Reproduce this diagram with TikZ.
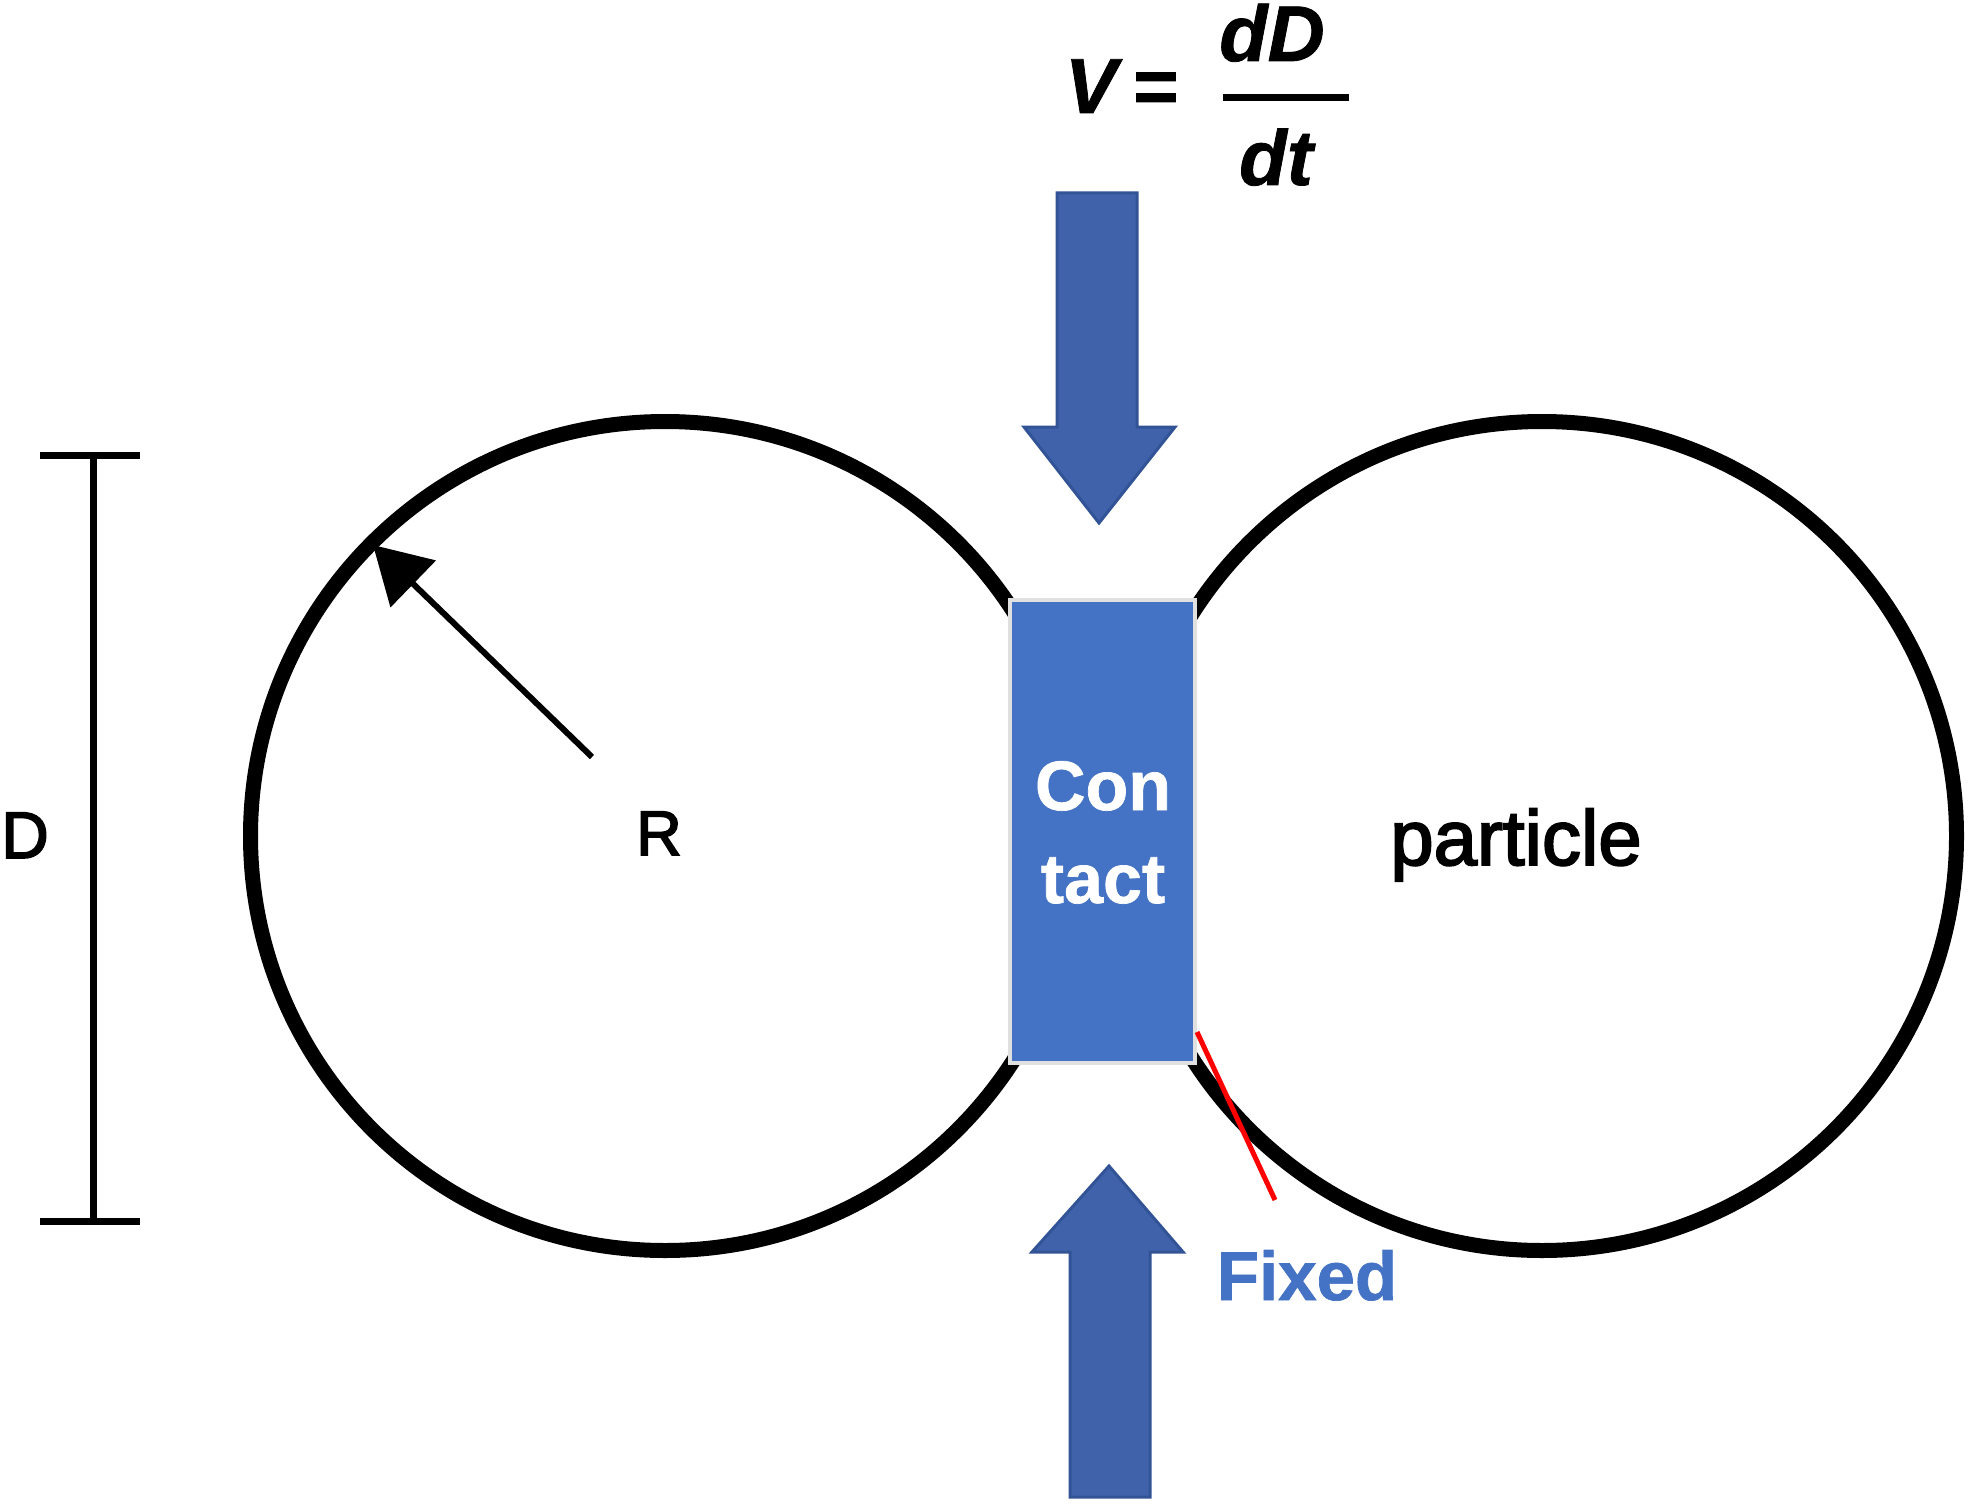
\documentclass[tikz,border=0pt]{standalone}
\usepackage{fontspec}
\setmainfont{Liberation Sans}
\newfontface\regheavy{Liberation Sans}[FakeBold=2.5]
\newfontface\boldheavy{Liberation Sans Bold}[FakeBold=1]
\newfontface\bolditheavy{Liberation Sans Bold Italic}[FakeBold=1]
\usetikzlibrary{arrows.meta}
\definecolor{contactblue}{RGB}{68,114,196}
\definecolor{arrowblue}{RGB}{64,98,170}
\definecolor{arrowedge}{RGB}{50,84,150}
\tikzset{
  lbl/.style={inner sep=0pt, anchor=base},
  particlecircle/.style={circle, draw=black, line width=15pt, minimum size=829pt, inner sep=0pt},
  bigarrow/.style={fill=arrowblue, draw=arrowedge, line width=3pt, line join=miter},
  dimline/.style={draw=black, line width=7pt},
}
\begin{document}
\begin{tikzpicture}[x=1pt,y=-1pt]
\fill[white] (0,0) rectangle (1969,1506);
\useasboundingbox (0,0) rectangle (1969,1506);

% particles
\node[particlecircle] (lp) at (665,836) {};
\node[particlecircle] (rp) at (1542,836) {};

% contact region
\node[fill=contactblue, draw=black!12, line width=4pt, minimum width=185pt, minimum height=463pt, inner sep=0pt] (contact) at (1102.5,831.5) {};
\node[lbl, align=center, text=white, font=\boldheavy\fontsize{70}{93}\selectfont] (contacttext) at (1103,903) {Con\\tact};

% loading arrows
\path[bigarrow] (1057,193) -- (1137,193) -- (1137,427) -- (1175,427) -- (1099,523) -- (1024,427) -- (1057,427) -- cycle;
\path[bigarrow] (1070,1497) -- (1150,1497) -- (1150,1252) -- (1183,1252) -- (1109,1166) -- (1032,1252) -- (1070,1252) -- cycle;

% formula
\node[lbl, font=\bolditheavy\fontsize{78}{90}\selectfont] (V) at (1091,113) {V};
\node[lbl, font=\boldheavy\fontsize{78}{90}\selectfont] (eq) at (1156,113) {=};
\node[lbl, font=\bolditheavy\fontsize{79}{90}\selectfont] (num) at (1272,61) {dD};
\node[lbl, font=\bolditheavy\fontsize{78}{90}\selectfont] (den) at (1276,185) {dt};
\coordinate (barl) at (1223,98);
\coordinate (barr) at (1349,98);
\draw[line width=7pt] (barl) -- (barr);

% radius arrow
\coordinate (rstart) at (592,757);
\coordinate (rtip) at (373,545);
\draw[line width=6pt, -{Triangle[length=56pt,width=64pt]}] (rstart) -- (rtip);
\node[lbl, font=\regheavy\fontsize{63}{70}\selectfont] (R) at (659,855) {R};

% diameter bar
\coordinate (dtop) at (93,455);
\coordinate (dbot) at (93,1221);
\coordinate (dtl) at (40,455);
\coordinate (dtr) at (140,455);
\coordinate (dbl) at (40,1221);
\coordinate (dbr) at (140,1221);
\draw[dimline] (dtop) -- (dbot);
\draw[dimline] (dtl) -- (dtr);
\draw[dimline] (dbl) -- (dbr);
\node[lbl, font=\regheavy\fontsize{66}{70}\selectfont] (Dlbl) at (25,858) {D};

% particle label
\node[lbl, font=\regheavy\fontsize{78}{90}\selectfont] (ptext) at (1516,865) {particle};

% fixed marker
\coordinate (fa) at (1197,1032);
\coordinate (fb) at (1275,1200);
\draw[red, line width=5pt] (fa) -- (fb);
\node[lbl, text=contactblue, font=\boldheavy\fontsize{69}{80}\selectfont] (fixed) at (1307,1300) {Fixed};
\end{tikzpicture}
\end{document}
